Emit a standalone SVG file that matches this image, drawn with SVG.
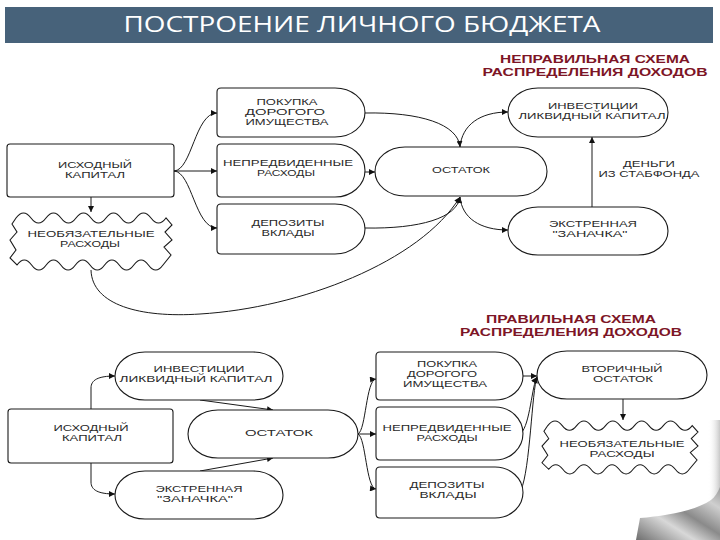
<svg xmlns="http://www.w3.org/2000/svg" xmlns:xlink="http://www.w3.org/1999/xlink" width="720" height="540" viewBox="0 0 720 540">
<style>
.shape{fill:#fff;stroke:#1a1a1a;stroke-width:1.1}
.t{font-family:"Liberation Sans",Arial,sans-serif;font-size:8.4px;fill:#2a2a2a;text-anchor:middle}
.red{font-family:"Liberation Sans",Arial,sans-serif;font-size:11px;font-weight:bold;fill:#7d1526;text-anchor:middle}
.hdr{font-family:"Open Sans","Liberation Sans",sans-serif;font-size:21px;fill:#fff;text-anchor:middle}
.c{fill:none;stroke:#1a1a1a;stroke-width:1}
</style>
<defs>
<marker id="ah" viewBox="0 0 10 10" refX="10" refY="5" markerWidth="7" markerHeight="6" orient="auto" markerUnits="userSpaceOnUse">
<path d="M0,0 L10,5 L0,10 Z" fill="#111"/>
</marker>
<path id="burst" d="M6,6 q7.5,-10 15,0 t15,0 t15,0 t15,0 t15,0 t15,0 t15,0 t15,0 t15,0 t15,0 L162,13 L155,20 L162,28 L154,35 L161,43 L153,53 q-7.3,10 -14.6,0 t-14.6,0 t-14.6,0 t-14.6,0 t-14.6,0 t-14.6,0 t-14.6,0 t-14.6,0 t-14.6,0 t-14.6,0 L0,46 L6,38 L0,28 L7,20 L2,12 Z"/>
<linearGradient id="curl" x1="0" y1="1" x2="1" y2="0">
<stop offset="0" stop-color="#6e6e6e"/>
<stop offset="0.35" stop-color="#d8d8d8"/>
<stop offset="0.55" stop-color="#8a8a8a"/>
<stop offset="0.8" stop-color="#cfcfcf"/>
<stop offset="1" stop-color="#9a9a9a"/>
</linearGradient>
<linearGradient id="edge" x1="0" y1="0" x2="1" y2="0">
<stop offset="0" stop-color="#fff" stop-opacity="0"/>
<stop offset="1" stop-color="#c8c8c8"/>
</linearGradient>
</defs>
<rect width="720" height="540" fill="#fff"/>

<g id="header">
<rect x="5" y="7" width="708" height="36" fill="#47627a"/>
<text class="hdr" x="362" y="32" textLength="477" lengthAdjust="spacingAndGlyphs">ПОСТРОЕНИЕ ЛИЧНОГО БЮДЖЕТА</text>
</g>

<g id="title-wrong">
<text class="red" x="595" y="63" textLength="190" lengthAdjust="spacingAndGlyphs">НЕПРАВИЛЬНАЯ СХЕМА</text>
<text class="red" x="595" y="76" textLength="225" lengthAdjust="spacingAndGlyphs">РАСПРЕДЕЛЕНИЯ ДОХОДОВ</text>
</g>
<g id="title-right">
<text class="red" x="571" y="323" textLength="170" lengthAdjust="spacingAndGlyphs">ПРАВИЛЬНАЯ СХЕМА</text>
<text class="red" x="571" y="336" textLength="222" lengthAdjust="spacingAndGlyphs">РАСПРЕДЕЛЕНИЯ ДОХОДОВ</text>
</g>

<g id="connectors">
<path class="c" d="M174,171 C192,170 195,113 217,113" marker-end="url(#ah)"/>
<path class="c" d="M174,171 H217" marker-end="url(#ah)"/>
<path class="c" d="M174,171 C192,172 195,228 217,228" marker-end="url(#ah)"/>
<path class="c" d="M91,197 V212" marker-end="url(#ah)"/>
<path class="c" d="M365,113 C420,112 458,124 460,147" marker-end="url(#ah)"/>
<path class="c" d="M365,172 H375" marker-end="url(#ah)"/>
<path class="c" d="M365,228 C420,229 457,218 460,197" marker-end="url(#ah)"/>
<path class="c" d="M91,270 C92,305 140,318 200,314 C300,308 420,262 460,197" marker-end="url(#ah)"/>
<path class="c" d="M460,147 C462,125 480,112 508,112" marker-end="url(#ah)"/>
<path class="c" d="M460,197 C462,218 480,230 508,230" marker-end="url(#ah)"/>
<path class="c" d="M592,207 V137" marker-end="url(#ah)"/>

<path class="c" d="M91,409 V388 C91,380 98,376 115,376" marker-end="url(#ah)"/>
<path class="c" d="M91,463 V482 C91,490 98,494 115,494" marker-end="url(#ah)"/>
<path class="c" d="M200,400 L273,410" marker-end="url(#ah)"/>
<path class="c" d="M200,471 L273,458" marker-end="url(#ah)"/>
<path class="c" d="M358,434 C366,430 366,380 376,379" marker-end="url(#ah)"/>
<path class="c" d="M358,434 H376" marker-end="url(#ah)"/>
<path class="c" d="M358,434 C366,438 366,488 376,489" marker-end="url(#ah)"/>
<path class="c" d="M523,376 H537" marker-end="url(#ah)"/>
<path class="c" d="M521,433 C530,425 532,385 537,377" marker-end="url(#ah)"/>
<path class="c" d="M521,490 C530,470 532,390 537,377" marker-end="url(#ah)"/>
<path class="c" d="M623,399 V420" marker-end="url(#ah)"/>
</g>

<g id="w-start">
<rect class="shape" x="7" y="144" width="167" height="53" rx="3"/>
<text class="t" x="95" y="168" textLength="74" lengthAdjust="spacingAndGlyphs">ИСХОДНЫЙ</text>
<text class="t" x="95" y="178" textLength="60" lengthAdjust="spacingAndGlyphs">КАПИТАЛ</text>
</g>
<g id="w-optional">
<use href="#burst" class="shape" transform="translate(10,212)"/>
<text class="t" x="91" y="237" textLength="127" lengthAdjust="spacingAndGlyphs">НЕОБЯЗАТЕЛЬНЫЕ</text>
<text class="t" x="90" y="247" textLength="60" lengthAdjust="spacingAndGlyphs">РАСХОДЫ</text>
</g>
<g id="w-purchase">
<path class="shape" d="M221,88 H335 A30,24.5 0 0 1 335,137 H221 Q217,137 217,133 V92 Q217,88 221,88 Z"/>
<text class="t" x="287" y="105" textLength="61" lengthAdjust="spacingAndGlyphs">ПОКУПКА</text>
<text class="t" x="285" y="115" textLength="80" lengthAdjust="spacingAndGlyphs">ДОРОГОГО</text>
<text class="t" x="287" y="125" textLength="83" lengthAdjust="spacingAndGlyphs">ИМУЩЕСТВА</text>
</g>
<g id="w-unforeseen">
<path class="shape" d="M221,144 H335 A30,26.5 0 0 1 335,197 H221 Q217,197 217,193 V148 Q217,144 221,144 Z"/>
<text class="t" x="288" y="166" textLength="130" lengthAdjust="spacingAndGlyphs">НЕПРЕДВИДЕННЫЕ</text>
<text class="t" x="286" y="176" textLength="58" lengthAdjust="spacingAndGlyphs">РАСХОДЫ</text>
</g>
<g id="w-deposits">
<path class="shape" d="M221,204 H335 A30,25 0 0 1 335,254 H221 Q217,254 217,250 V208 Q217,204 221,204 Z"/>
<text class="t" x="288" y="226" textLength="73" lengthAdjust="spacingAndGlyphs">ДЕПОЗИТЫ</text>
<text class="t" x="288" y="236" textLength="53" lengthAdjust="spacingAndGlyphs">ВКЛАДЫ</text>
</g>
<g id="w-rest">
<rect class="shape" x="375" y="147" width="172" height="49" rx="30" ry="24.5"/>
<text class="t" x="461" y="173" textLength="58" lengthAdjust="spacingAndGlyphs">ОСТАТОК</text>
</g>
<g id="w-invest">
<rect class="shape" x="508" y="88" width="160" height="49" rx="30" ry="24.5"/>
<text class="t" x="593" y="109" textLength="90" lengthAdjust="spacingAndGlyphs">ИНВЕСТИЦИИ</text>
<text class="t" x="592" y="119" textLength="147" lengthAdjust="spacingAndGlyphs">ЛИКВИДНЫЙ КАПИТАЛ</text>
</g>
<g id="w-emergency">
<rect class="shape" x="508" y="207" width="160" height="48" rx="30" ry="24"/>
<text class="t" x="593" y="227" textLength="88" lengthAdjust="spacingAndGlyphs">ЭКСТРЕННАЯ</text>
<text class="t" x="590" y="237" textLength="75" lengthAdjust="spacingAndGlyphs">"ЗАНАЧКА"</text>
</g>
<g id="w-label">
<text class="t" x="649" y="167" textLength="52" lengthAdjust="spacingAndGlyphs">ДЕНЬГИ</text>
<text class="t" x="649" y="177" textLength="101" lengthAdjust="spacingAndGlyphs">ИЗ СТАБФОНДА</text>
</g>

<g id="r-start">
<rect class="shape" x="8" y="409" width="165" height="54" rx="3"/>
<text class="t" x="91" y="431" textLength="75" lengthAdjust="spacingAndGlyphs">ИСХОДНЫЙ</text>
<text class="t" x="92" y="441" textLength="60" lengthAdjust="spacingAndGlyphs">КАПИТАЛ</text>
</g>
<g id="r-invest">
<rect class="shape" x="115" y="352" width="168" height="48" rx="30" ry="24"/>
<text class="t" x="199" y="372" textLength="91" lengthAdjust="spacingAndGlyphs">ИНВЕСТИЦИИ</text>
<text class="t" x="196" y="382" textLength="153" lengthAdjust="spacingAndGlyphs">ЛИКВИДНЫЙ КАПИТАЛ</text>
</g>
<g id="r-rest">
<rect class="shape" x="188" y="410" width="170" height="48" rx="30" ry="24"/>
<text class="t" x="279" y="436" textLength="68" lengthAdjust="spacingAndGlyphs">ОСТАТОК</text>
</g>
<g id="r-emergency">
<rect class="shape" x="115" y="471" width="168" height="48" rx="30" ry="24"/>
<text class="t" x="199" y="492" textLength="87" lengthAdjust="spacingAndGlyphs">ЭКСТРЕННАЯ</text>
<text class="t" x="195" y="502" textLength="76" lengthAdjust="spacingAndGlyphs">"ЗАНАЧКА"</text>
</g>
<g id="r-purchase">
<path class="shape" d="M380,352 H495 A28,24 0 0 1 495,400 H380 Q376,400 376,396 V356 Q376,352 380,352 Z"/>
<text class="t" x="447" y="367" textLength="60" lengthAdjust="spacingAndGlyphs">ПОКУПКА</text>
<text class="t" x="442" y="377" textLength="70" lengthAdjust="spacingAndGlyphs">ДОРОГОГО</text>
<text class="t" x="445" y="387" textLength="84" lengthAdjust="spacingAndGlyphs">ИМУЩЕСТВА</text>
</g>
<g id="r-unforeseen">
<path class="shape" d="M380,407 H495 A28,26.5 0 0 1 495,460 H380 Q376,460 376,456 V411 Q376,407 380,407 Z"/>
<text class="t" x="447" y="431" textLength="129" lengthAdjust="spacingAndGlyphs">НЕПРЕДВИДЕННЫЕ</text>
<text class="t" x="447" y="441" textLength="61" lengthAdjust="spacingAndGlyphs">РАСХОДЫ</text>
</g>
<g id="r-deposits">
<path class="shape" d="M380,467 H495 A28,25.5 0 0 1 495,518 H380 Q376,518 376,514 V471 Q376,467 380,467 Z"/>
<text class="t" x="447" y="488" textLength="75" lengthAdjust="spacingAndGlyphs">ДЕПОЗИТЫ</text>
<text class="t" x="448" y="498" textLength="57" lengthAdjust="spacingAndGlyphs">ВКЛАДЫ</text>
</g>
<g id="r-secondary">
<rect class="shape" x="537" y="351" width="170" height="48" rx="30" ry="24"/>
<text class="t" x="622" y="372" textLength="81" lengthAdjust="spacingAndGlyphs">ВТОРИЧНЫЙ</text>
<text class="t" x="623" y="382" textLength="60" lengthAdjust="spacingAndGlyphs">ОСТАТОК</text>
</g>
<g id="r-optional">
<use href="#burst" class="shape" transform="translate(542,420) scale(0.963,0.93)" vector-effect="non-scaling-stroke"/>
<text class="t" x="622" y="447" textLength="125" lengthAdjust="spacingAndGlyphs">НЕОБЯЗАТЕЛЬНЫЕ</text>
<text class="t" x="622" y="457" textLength="65" lengthAdjust="spacingAndGlyphs">РАСХОДЫ</text>
</g>

<g id="page-curl">
<rect x="708" y="420" width="12" height="120" fill="url(#edge)"/>
<path d="M636,540 L640,518 C665,516 695,511 711,500 C715,497 718,492 720,487 L720,540 Z" fill="url(#curl)"/>
</g>
</svg>
